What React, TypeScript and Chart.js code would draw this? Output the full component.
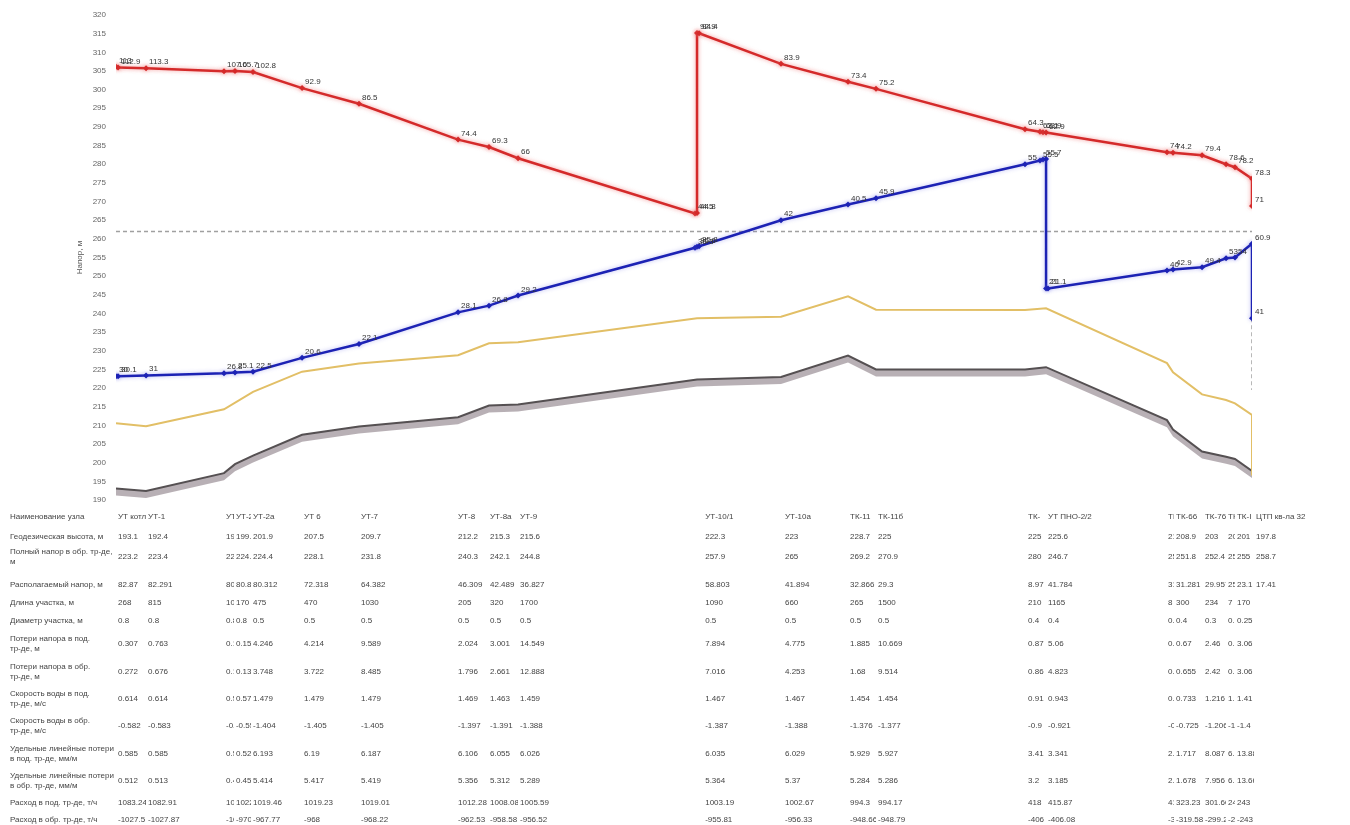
import React, { useEffect, useRef } from "react";
import Chart from "chart.js/auto";

const FONT = '"Liberation Sans", Arial, sans-serif';

// ---- piezometric chart data (distance along the route, m / head, m) ----
const supplyX = [0, 20, 293, 1053, 1160, 1336, 1814, 2369, 3335, 3637, 3920, 5645, 5665, 5665, 5685, 6484, 7137, 7410, 8863, 9009, 9038, 9068, 10247, 10306, 10589, 10823, 10910, 11076, 11076];
const supplyY = [306.1, 305.9, 305.7, 304.9, 305.0, 304.7, 300.4, 296.2, 286.6, 284.6, 281.6, 266.8, 266.9, 315.2, 315.1, 306.9, 302.1, 300.2, 289.4, 288.7, 288.6, 288.5, 283.2, 283.1, 282.4, 280.0, 279.2, 276.1, 268.8];
const supplyLabels = ["113", "112.9", "113.3", "107.6", "105.7", "102.8", "92.9", "86.5", "74.4", "69.3", "66", "44.5", "44.8", "92.9", "94.4", "83.9", "73.4", "75.2", "64.3", "63.1", "63.9", "62.9", "74", "74.2", "79.4", "78.6", "78.2", "78.3", "71"];

const returnX = [0, 20, 293, 1053, 1160, 1336, 1814, 2369, 3335, 3637, 3920, 5645, 5665, 5685, 6484, 7137, 7410, 8863, 9009, 9038, 9068, 9068, 9087, 10247, 10306, 10589, 10823, 10910, 11076, 11076];
const returnY = [223.2, 223.2, 223.4, 224.0, 224.2, 224.4, 228.1, 231.8, 240.3, 242.1, 244.8, 257.6, 257.9, 258.0, 265.0, 269.2, 270.9, 280.0, 281.0, 281.3, 281.4, 246.7, 246.7, 251.5, 251.8, 252.4, 254.8, 255.0, 258.7, 238.7];
const returnLabels = ["30", "30.1", "31", "26.8", "25.1", "22.5", "20.6", "22.1", "28.1", "26.8", "29.2", "35.3", "35.6", "35.8", "42", "40.5", "45.9", "55", "55.5", "55.7", "", "21", "21.1", "40", "42.9", "49.4", "53", "54", "60.9", "41"];

const levelX = [0, 293, 1053, 1336, 1814, 2369, 3335, 3637, 3920, 5665, 6484, 7137, 7410, 8863, 9068, 10247, 10306, 10589, 10823, 10910, 11076, 11076];
const levelY = [210.6, 209.8, 214.3, 219.0, 224.4, 226.6, 228.8, 232.0, 232.3, 238.7, 239.1, 244.6, 241.0, 240.9, 241.4, 226.7, 224.2, 218.3, 216.8, 215.9, 212.8, 196.6];

const groundX = [0, 293, 1053, 1160, 1336, 1814, 2369, 3335, 3637, 3920, 5665, 6484, 7137, 7410, 8863, 9068, 10247, 10306, 10589, 10823, 10910, 11076];
const groundY = [193.1, 192.4, 197.2, 199.6, 201.9, 207.5, 209.7, 212.2, 215.3, 215.6, 222.3, 223, 228.7, 225, 225, 225.6, 211.4, 208.9, 203, 201.6, 201, 197.8];

const staticHead = 262.0;
const endDropX = 11076;
const endDropFrom = 238.7;
const endDropTo = 219.5;

const X_MIN = 0;
const X_MAX = 11076;
const Y_MIN = 190;
const Y_MAX = 320;
const Y_STEP = 5;

// ---- table ----
const tableColX = [0, 293, 1053, 1150, 1316, 1814, 2369, 3315, 3627, 3920, 5725, 6503, 7137, 7410, 8873, 9068, 10238, 10316, 10598, 10823, 10910, 11096];
const nodeNames = ["УТ котл", "УТ-1", "УТ-1а", "УТ-2", "УТ-2а", "УТ 6", "УТ-7", "УТ-8", "УТ-8а", "УТ-9", "УТ-10/1", "УТ-10а", "ТК-11", "ТК-11б", "ТК-", "УТ ПНО-2/2", "ТК-65", "ТК-66", "ТК-76", "ТК-77", "ТК-І", "ЦТП кв-ла 32"];
const geoRow = ["193.1", "192.4", "197.2", "199.6", "201.9", "207.5", "209.7", "212.2", "215.3", "215.6", "222.3", "223", "228.7", "225", "225", "225.6", "211.4", "208.9", "203", "201.6", "201", "197.8"];
const retHeadRow = ["223.2", "223.4", "224", "224.2", "224.4", "228.1", "231.8", "240.3", "242.1", "244.8", "257.9", "265", "269.2", "270.9", "280", "246.7", "251.5", "251.8", "252.4", "254.8", "255", "258.7"];
const availRow = ["82.87", "82.291", "80.9", "80.85", "80.312", "72.318", "64.382", "46.309", "42.489", "36.827", "58.803", "41.894", "32.866", "29.3", "8.97", "41.784", "31.7", "31.281", "29.957", "25.9", "23.1", "17.41"];
const lengthRow = ["268", "815", "10", "170", "475", "470", "1030", "205", "320", "1700", "1090", "660", "265", "1500", "210", "1165", "8", "300", "234", "7", "170", ""];
const diamRow = ["0.8", "0.8", "0.8", "0.8", "0.5", "0.5", "0.5", "0.5", "0.5", "0.5", "0.5", "0.5", "0.5", "0.5", "0.4", "0.4", "0.4", "0.4", "0.3", "0.3", "0.25", ""];
const lossSupRow = ["0.307", "0.763", "0.15", "0.15", "4.246", "4.214", "9.589", "2.024", "3.001", "14.549", "7.894", "4.775", "1.885", "10.669", "0.87", "5.06", "0.05", "0.67", "2.46", "0.02", "3.06", ""];
const lossRetRow = ["0.272", "0.676", "0.13", "0.13", "3.748", "3.722", "8.485", "1.796", "2.661", "12.888", "7.016", "4.253", "1.68", "9.514", "0.86", "4.823", "0.05", "0.655", "2.42", "0.02", "3.06", ""];
const velSupRow = ["0.614", "0.614", "0.57", "0.57", "1.479", "1.479", "1.479", "1.469", "1.463", "1.459", "1.467", "1.467", "1.454", "1.454", "0.91", "0.943", "0.73", "0.733", "1.216", "1.2", "1.41", ""];
const velRetRow = ["-0.582", "-0.583", "-0.55", "-0.55", "-1.404", "-1.405", "-1.405", "-1.397", "-1.391", "-1.388", "-1.387", "-1.388", "-1.376", "-1.377", "-0.9", "-0.921", "-0.72", "-0.725", "-1.206", "-1.2", "-1.4", ""];
const specSupRow = ["0.585", "0.585", "0.52", "0.52", "6.193", "6.19", "6.187", "6.106", "6.055", "6.026", "6.035", "6.029", "5.929", "5.927", "3.41", "3.341", "2.1", "1.717", "8.087", "6.1", "13.88", ""];
const specRetRow = ["0.512", "0.513", "0.45", "0.45", "5.414", "5.417", "5.419", "5.356", "5.312", "5.289", "5.364", "5.37", "5.284", "5.286", "3.2", "3.185", "2.1", "1.678", "7.956", "6.1", "13.66", ""];
const flowSupRow = ["1083.24", "1082.91", "1022.6", "1022.6", "1019.46", "1019.23", "1019.01", "1012.28", "1008.08", "1005.59", "1003.19", "1002.67", "994.3", "994.17", "418", "415.87", "418", "323.23", "301.60", "243", "243", ""];
const flowRetRow = ["-1027.5", "-1027.87", "-1022", "-970.2", "-967.77", "-968", "-968.22", "-962.53", "-958.58", "-956.52", "-955.81", "-956.33", "-948.66", "-948.79", "-406", "-406.08", "-319", "-319.58", "-299.2", "-243", "-243", ""];

const rowTitles = [
  ["Наименование узла"],
  ["Геодезическая высота, м"],
  ["Полный напор в обр. тр-де,", "м"],
  ["Располагаемый напор, м"],
  ["Длина участка, м"],
  ["Диаметр участка, м"],
  ["Потери напора в под.", "тр-де, м"],
  ["Потери напора в обр.", "тр-де, м"],
  ["Скорость воды в под.", "тр-де, м/с"],
  ["Скорость воды в обр.", "тр-де, м/с"],
  ["Удельные линейные потери", "в под. тр-де, мм/м"],
  ["Удельные линейные потери", "в обр. тр-де, мм/м"],
  ["Расход в под. тр-де, т/ч"],
  ["Расход в обр. тр-де, т/ч"],
];
const tableRows = [nodeNames, geoRow, retHeadRow, availRow, lengthRow, diamRow, lossSupRow, lossRetRow, velSupRow, velRetRow, specSupRow, specRetRow, flowSupRow, flowRetRow];
const rowY = [517, 537, 557, 585, 603, 621, 644, 672, 699, 726, 754, 781, 803, 820];

const toPts = (xs: number[], ys: number[]) => xs.map((x, i) => ({ x, y: ys[i] }));

const lineEffectsPlugin = {
  id: "lineEffects",
  beforeDatasetDraw(chart: any, args: any) {
    const ds = chart.data.datasets[args.index];
    const ctx = chart.ctx;
    if (ds.halo) {
      ctx.save();
      ctx.shadowColor = ds.halo;
      ctx.shadowBlur = 4;
    }
    if (!ds.groundShadow) return;
    const pts = args.meta.data;
    ctx.save();
    ctx.beginPath();
    pts.forEach((p: any, k: number) => (k ? ctx.lineTo(p.x, p.y) : ctx.moveTo(p.x, p.y)));
    for (let k = pts.length - 1; k >= 0; k--) ctx.lineTo(pts[k].x, pts[k].y + 7);
    ctx.closePath();
    ctx.fillStyle = "rgba(172,162,168,0.85)";
    ctx.fill();
    ctx.restore();
  },
  afterDatasetDraw(chart: any, args: any) {
    const ds = chart.data.datasets[args.index];
    if (ds.halo) chart.ctx.restore();
  },
};

const pointLabelPlugin = {
  id: "pointLabels",
  afterDatasetsDraw(chart: any) {
    const ctx = chart.ctx;
    ctx.save();
    ctx.font = `8px ${FONT}`;
    ctx.fillStyle = "#333";
    ctx.textAlign = "left";
    ctx.textBaseline = "alphabetic";
    chart.data.datasets.forEach((ds: any, i: number) => {
      const labels = ds.pointLabels;
      if (!labels) return;
      const meta = chart.getDatasetMeta(i);
      meta.data.forEach((pt: any, j: number) => {
        const t = labels[j];
        if (t) ctx.fillText(t, pt.x + 3, pt.y - 4);
      });
    });
    ctx.restore();
  },
};

const tablePlugin = {
  id: "nodeTable",
  afterDraw(chart: any) {
    const ctx = chart.ctx;
    const xs = chart.scales.x;
    const cols = tableColX.map((v) => xs.getPixelForValue(v));
    ctx.save();
    ctx.font = `8px ${FONT}`;
    ctx.fillStyle = "#444";
    ctx.textBaseline = "middle";
    ctx.textAlign = "left";
    rowTitles.forEach((lines, r) => {
      const y0 = rowY[r] - ((lines.length - 1) * 10) / 2;
      lines.forEach((ln, k) => ctx.fillText(ln, 10, y0 + k * 10));
    });
    tableRows.forEach((row, r) => {
      row.forEach((txt, c) => {
        if (!txt) return;
        const left = cols[c] + 1;
        const right = c + 1 < cols.length ? cols[c + 1] : chart.width;
        ctx.save();
        ctx.beginPath();
        ctx.rect(left, rowY[r] - 8, right - left, 16);
        ctx.clip();
        ctx.fillText(txt, cols[c] + 2, rowY[r]);
        ctx.restore();
      });
    });
    ctx.restore();
  },
};

export default function App() {
  const ref = useRef<HTMLCanvasElement | null>(null);
  useEffect(() => {
    if (!ref.current) return;
    const chart = new Chart(ref.current, {
      type: "line",
      data: {
        datasets: [
          {
            label: "Подающий",
            data: toPts(supplyX, supplyY),
            borderColor: "#d42a2a",
            backgroundColor: "#d42a2a",
            borderWidth: 2.5,
            pointStyle: "rectRot",
            pointRadius: 3,
            pointBorderWidth: 0,
            pointBackgroundColor: "#d42a2a",
            fill: false,
            tension: 0,
            pointLabels: supplyLabels,
            halo: "rgba(240,110,110,0.7)",
          } as any,
          {
            label: "Обратный",
            data: toPts(returnX, returnY),
            borderColor: "#1c22b4",
            backgroundColor: "#1c22b4",
            borderWidth: 2.5,
            pointStyle: "rectRot",
            pointRadius: 3,
            pointBorderWidth: 0,
            pointBackgroundColor: "#1c22b4",
            fill: false,
            tension: 0,
            pointLabels: returnLabels,
            halo: "rgba(110,110,230,0.45)",
          } as any,
          {
            label: "Статический напор",
            data: [{ x: X_MIN, y: staticHead }, { x: X_MAX, y: staticHead }],
            borderColor: "#a0a0a0",
            borderWidth: 1.5,
            borderDash: [4, 3],
            pointRadius: 0,
            fill: false,
          },
          {
            label: "Ввод",
            data: [{ x: endDropX, y: endDropFrom }, { x: endDropX, y: endDropTo }],
            borderColor: "#a0a0a0",
            borderWidth: 1.5,
            borderDash: [4, 3],
            pointRadius: 0,
            fill: false,
          },
          {
            label: "Высота зданий",
            data: toPts(levelX, levelY),
            borderColor: "#e2bf66",
            borderWidth: 2,
            pointRadius: 0,
            fill: false,
            tension: 0,
          },
          {
            label: "Геодезическая высота",
            data: toPts(groundX, groundY),
            borderColor: "#555052",
            borderWidth: 2,
            pointRadius: 0,
            fill: false,
            tension: 0,
            groundShadow: true,
          } as any,
        ],
      },
      options: {
        animation: false,
        responsive: false,
        maintainAspectRatio: false,
        layout: { padding: { left: 75, top: 15, right: 98, bottom: 325 } },
        plugins: { legend: { display: false }, tooltip: { enabled: false } },
        scales: {
          x: { type: "linear", min: X_MIN, max: X_MAX, display: false },
          y: {
            min: Y_MIN,
            max: Y_MAX,
            afterFit: (s: any) => {
              s.width = 41;
            },
            ticks: { stepSize: Y_STEP, font: { size: 8, family: FONT }, color: "#666", padding: 10 },
            grid: { display: false, drawTicks: false },
            border: { display: false },
            title: { display: true, text: "Напор, м", font: { size: 8, family: FONT }, color: "#555", padding: 0 },
          },
        },
      },
      plugins: [lineEffectsPlugin, pointLabelPlugin, tablePlugin],
    } as any);
    return () => chart.destroy();
  }, []);
  return (
    <div style={{ position: "fixed", left: 0, top: 0, width: 1350, height: 825, background: "#fff" }}>
      <canvas ref={ref} width={1350} height={825} style={{ display: "block" }} />
    </div>
  );
}
